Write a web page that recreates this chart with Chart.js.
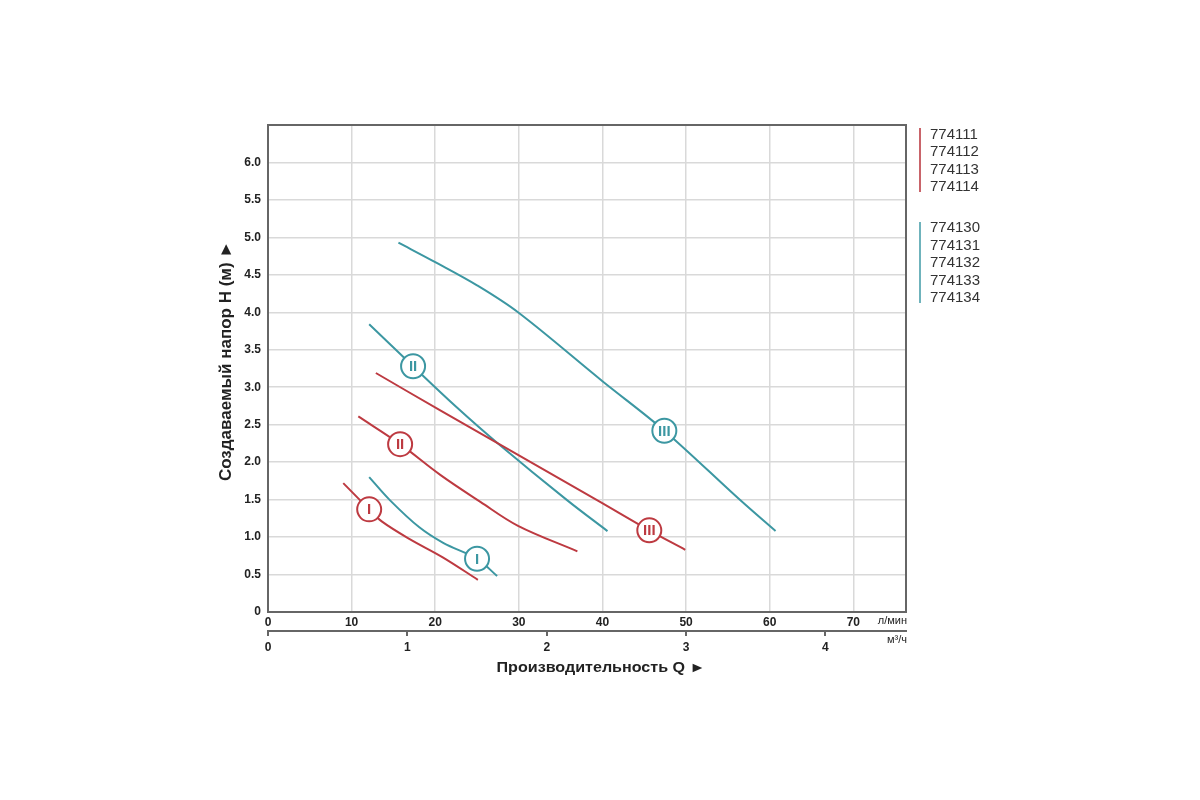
<!DOCTYPE html>
<html>
<head>
<meta charset="utf-8">
<script src="https://cdn.jsdelivr.net/npm/chart.js@4/dist/chart.umd.min.js"></script>
<style>
  html, body { margin: 0; padding: 0; background: #fff; }
  #wrap { width: 1200px; height: 800px; }
</style>
</head>
<body>
<div id="wrap"><canvas id="myChart" width="1200" height="800"></canvas></div>
<script>
/* Datos de las curvas: Q (л/мин) y H (м) */

const qRed1 = [9.0, 12.1, 13.6, 17.0, 20.9, 25.1]
const hRed1 = [1.72, 1.37, 1.21, 0.97, 0.73, 0.43]

const qRed2 = [10.8, 15.8, 20.6, 25.4, 29.9, 37.0]
const hRed2 = [2.61, 2.24, 1.83, 1.47, 1.15, 0.81]

const qRed3 = [12.9, 20.6, 27.5, 39.4, 45.6, 49.9]
const hRed3 = [3.19, 2.69, 2.25, 1.49, 1.09, 0.83]

const qTeal1 = [12.1, 14.6, 18.1, 21.0, 25.0, 27.4]
const hTeal1 = [1.80, 1.49, 1.13, 0.92, 0.71, 0.48]

const qTeal2 = [12.1, 17.35, 22.5, 27.5, 35.8, 40.6]
const hTeal2 = [3.84, 3.28, 2.74, 2.25, 1.49, 1.08]

const qTeal3 = [15.6, 20.0, 25.0, 29.9, 40.0, 47.4, 56.5, 60.7]
const hTeal3 = [4.93, 4.67, 4.36, 4.00, 3.08, 2.42, 1.49, 1.08]

// posiciones de los circulos con numeros romanos
const redMarkQ = [12.1, 15.8, 45.6]
const redMarkH = [1.37, 2.24, 1.09]
const tealMarkQ = [25.0, 17.35, 47.4]
const tealMarkH = [0.71, 3.28, 2.42]
const markText = ['I', 'II', 'III']

const legendRed = ['774111', '774112', '774113', '774114']
const legendTeal = ['774130', '774131', '774132', '774133', '774134']

const qMax = 76.3      // л/мин
const hMax = 6.5       // м
const lminPerM3h = 1000 / 60

const RED = '#bd3a41'
const TEAL = '#3c97a2'
const FONT = '"Liberation Sans", Arial, sans-serif'

const pts = (qs, hs) => qs.map((q, i) => ({ x: q, y: hs[i] }))

const curve = (qs, hs, color) => ({
  data: pts(qs, hs),
  borderColor: color,
  borderWidth: 2,
  pointRadius: 0,
  fill: false,
  tension: 0.35,
  order: 1
})

const marks = (qs, hs, color) => ({
  data: pts(qs, hs),
  showLine: false,
  pointRadius: 12,
  pointHoverRadius: 12,
  pointBorderWidth: 2,
  pointBackgroundColor: '#ffffff',
  pointBorderColor: color,
  borderColor: color,
  order: -1,
  markColor: color
})

const extras = {
  id: 'extras',
  beforeDatasetsDraw(chart) {
    const { ctx, chartArea: a } = chart
    ctx.save()
    ctx.strokeStyle = '#666'
    ctx.lineWidth = 2
    ctx.strokeRect(a.left, a.top, a.right - a.left, a.bottom - a.top)
    ctx.restore()
  },
  afterDatasetsDraw(chart) {
    const { ctx } = chart
    ctx.save()
    ctx.textAlign = 'center'
    ctx.textBaseline = 'middle'
    ctx.font = 'bold 15px ' + FONT
    chart.data.datasets.forEach((ds, i) => {
      if (!ds.markColor) return
      ctx.fillStyle = ds.markColor
      chart.getDatasetMeta(i).data.forEach((p, j) => {
        ctx.fillText(markText[j], p.x, p.y + 1)
      })
    })
    ctx.restore()
  },
  afterDraw(chart) {
    const { ctx, chartArea: a } = chart
    ctx.save()
    ctx.fillStyle = '#222'

    // unidades
    ctx.font = '11px ' + FONT
    ctx.textAlign = 'right'
    ctx.textBaseline = 'middle'
    ctx.fillText('л/мин', a.right + 1, a.bottom + 9)
    ctx.fillText('м³/ч', a.right + 1, a.bottom + 28)

    // titulos de ejes
    ctx.textAlign = 'center'
    ctx.save()
    ctx.translate(601, a.bottom + 56)
    ctx.scale(1.15, 1)
    ctx.font = 'bold 14px ' + FONT
    ctx.fillText('Производительность Q ►', 0, 0)
    ctx.restore()
    ctx.save()
    ctx.translate(226, 361)
    ctx.rotate(-Math.PI / 2)
    ctx.font = 'bold 17px ' + FONT
    ctx.fillText('Создаваемый напор Н (м) ►', 0, 0)
    ctx.restore()

    // leyenda
    ctx.lineWidth = 2
    ctx.strokeStyle = '#c9646a'
    ctx.beginPath(); ctx.moveTo(920, 128); ctx.lineTo(920, 192); ctx.stroke()
    ctx.strokeStyle = '#6fb3bc'
    ctx.beginPath(); ctx.moveTo(920, 222); ctx.lineTo(920, 303); ctx.stroke()
    ctx.font = '15px ' + FONT
    ctx.textAlign = 'left'
    ctx.fillStyle = '#333'
    legendRed.forEach((t, i) => ctx.fillText(t, 930, 135 + i * 17.3))
    legendTeal.forEach((t, i) => ctx.fillText(t, 930, 228 + i * 17.5))
    ctx.restore()
  }
}

const ctx = document.getElementById('myChart')
const myChart = new Chart(ctx, {
  type: 'line',
  data: {
    datasets: [
      curve(qRed1, hRed1, RED),
      curve(qRed2, hRed2, RED),
      curve(qRed3, hRed3, RED),
      curve(qTeal1, hTeal1, TEAL),
      curve(qTeal2, hTeal2, TEAL),
      curve(qTeal3, hTeal3, TEAL),
      marks(redMarkQ, redMarkH, RED),
      marks(tealMarkQ, tealMarkH, TEAL)
    ]
  },
  options: {
    responsive: false,
    animation: false,
    layout: { padding: { left: 218, right: 294, top: 125, bottom: 139 } },
    plugins: {
      legend: { display: false },
      tooltip: { enabled: false }
    },
    scales: {
      x: {
        type: 'linear',
        position: 'bottom',
        min: 0,
        max: qMax,
        afterFit: s => { s.height = 19 },
        border: { display: true, color: '#666', width: 2 },
        grid: { color: '#d9d9d9', lineWidth: 1.5, drawTicks: false },
        ticks: {
          stepSize: 10,
          includeBounds: false,
          padding: 3,
          color: '#222',
          font: { family: FONT, size: 12, weight: 'bold' },
          maxRotation: 0
        }
      },
      x2: {
        type: 'linear',
        position: 'bottom',
        min: 0,
        max: qMax / lminPerM3h,
        afterFit: s => { s.height = 30 },
        border: { display: true, color: '#666', width: 2 },
        grid: { drawOnChartArea: false, drawTicks: true, tickLength: 5, color: '#666', lineWidth: 2 },
        ticks: {
          stepSize: 1,
          includeBounds: false,
          padding: 4,
          color: '#222',
          font: { family: FONT, size: 12, weight: 'bold' },
          maxRotation: 0
        }
      },
      y: {
        type: 'linear',
        min: 0,
        max: hMax,
        afterFit: s => { s.width = 50 },
        border: { display: true, color: '#666', width: 2 },
        grid: { color: '#d9d9d9', lineWidth: 1.5, drawTicks: false },
        ticks: {
          stepSize: 0.5,
          padding: 7,
          color: '#222',
          font: { family: FONT, size: 12, weight: 'bold' },
          callback: v => (v > 6 ? null : (v === 0 ? '0' : v.toFixed(1)))
        }
      }
    }
  },
  plugins: [extras]
})
</script>
</body>
</html>
